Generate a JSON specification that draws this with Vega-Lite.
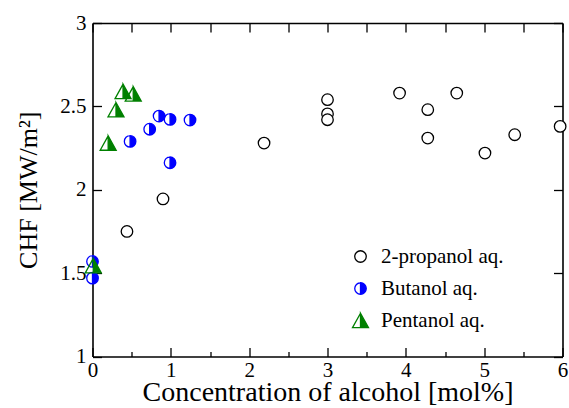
{
  "$schema": "https://vega.github.io/schema/vega-lite/v6.json",
  "width": 470,
  "height": 333.5,
  "autosize": {"type": "none"},
  "padding": {"left": 92.5, "top": 23, "right": 6.5, "bottom": 51.5},
  "background": "white",
  "config": {
    "view": {"stroke": null},
    "axis": {
      "domainColor": "black",
      "domainWidth": 1.6,
      "tickColor": "black",
      "tickWidth": 1.3,
      "labelColor": "black",
      "labelFont": "Liberation Serif",
      "labelFontSize": 21,
      "titleFont": "Liberation Serif",
      "titleColor": "black",
      "titleFontWeight": "normal",
      "grid": false
    },
    "legend": {
      "labelFont": "Liberation Serif",
      "labelColor": "black"
    }
  },
  "data": {
    "values": [
      {"s": "2-propanol aq.", "x": 0.44, "y": 1.75},
      {"s": "2-propanol aq.", "x": 0.90, "y": 1.945},
      {"s": "2-propanol aq.", "x": 2.19, "y": 2.28},
      {"s": "2-propanol aq.", "x": 3.00, "y": 2.54},
      {"s": "2-propanol aq.", "x": 3.00, "y": 2.455},
      {"s": "2-propanol aq.", "x": 3.00, "y": 2.42},
      {"s": "2-propanol aq.", "x": 3.92, "y": 2.58},
      {"s": "2-propanol aq.", "x": 4.28, "y": 2.48},
      {"s": "2-propanol aq.", "x": 4.28, "y": 2.31},
      {"s": "2-propanol aq.", "x": 4.65, "y": 2.58},
      {"s": "2-propanol aq.", "x": 5.01, "y": 2.22},
      {"s": "2-propanol aq.", "x": 5.39, "y": 2.33},
      {"s": "2-propanol aq.", "x": 5.97, "y": 2.38},
      {"s": "Butanol aq.", "x": 0.0, "y": 1.57},
      {"s": "Butanol aq.", "x": 0.0, "y": 1.47},
      {"s": "Butanol aq.", "x": 0.48, "y": 2.29},
      {"s": "Butanol aq.", "x": 0.73, "y": 2.363},
      {"s": "Butanol aq.", "x": 0.85, "y": 2.442},
      {"s": "Butanol aq.", "x": 0.99, "y": 2.422},
      {"s": "Butanol aq.", "x": 1.245, "y": 2.418},
      {"s": "Butanol aq.", "x": 0.99, "y": 2.162},
      {"s": "Pentanol aq.", "x": 0.01, "y": 1.545},
      {"s": "Pentanol aq.", "x": 0.20, "y": 2.28},
      {"s": "Pentanol aq.", "x": 0.30, "y": 2.48},
      {"s": "Pentanol aq.", "x": 0.39, "y": 2.59},
      {"s": "Pentanol aq.", "x": 0.52, "y": 2.575}
    ]
  },
  "layer": [
    {
      "mark": {"type": "point", "filled": true, "fill": "white", "strokeWidth": 0, "size": 256, "opacity": 1},
      "encoding": {
        "x": {
          "field": "x", "type": "quantitative",
          "scale": {"domain": [0, 6], "nice": false, "zero": false},
          "axis": {"orient": "top", "values": [0, 0.5, 1, 1.5, 2, 2.5, 3, 3.5, 4, 4.5, 5, 5.5, 6], "tickSize": -9, "labels": false, "title": null}
        },
        "y": {
          "field": "y", "type": "quantitative",
          "scale": {"domain": [1, 3], "nice": false, "zero": false},
          "axis": {"orient": "right", "values": [1, 1.5, 2, 2.5, 3], "tickSize": -9, "labels": false, "title": null}
        },
        "shape": {
          "condition": {"test": "datum.s === 'Pentanol aq.'", "value": "M0,-0.9 L1,0.9 L-1,0.9 Z"},
          "value": "M0.72,0 A0.72,0.72 0 1,1 -0.72,0 A0.72,0.72 0 1,1 0.72,0 Z"
        }
      }
    },
    {
      "mark": {"type": "point", "filled": true, "size": 256, "strokeWidth": 1.3, "opacity": 1},
      "encoding": {
        "x": {
          "field": "x", "type": "quantitative",
          "axis": {
            "orient": "bottom",
            "values": [0, 1, 2, 3, 4, 5, 6],
            "format": "~g",
            "tickSize": -9,
            "labelPadding": 12,
            "labelFlush": false,
            "labelOverlap": false,
            "title": "Concentration of alcohol [mol%]",
            "titleFontSize": 28,
            "titlePadding": -2
          }
        },
        "y": {
          "field": "y", "type": "quantitative",
          "axis": {
            "orient": "left",
            "values": [1, 1.5, 2, 2.5, 3],
            "format": "~g",
            "tickSize": -9,
            "labelPadding": 15.5,
            "labelFlush": false,
            "title": "CHF [MW/m²]",
            "titleFontSize": 26,
            "titlePadding": 18
          }
        },
        "shape": {
          "field": "s", "type": "nominal",
          "scale": {
            "domain": ["2-propanol aq.", "Butanol aq.", "Pentanol aq."],
            "range": [
              "M0.72,0 A0.72,0.72 0 1,1 -0.72,0 A0.72,0.72 0 1,1 0.72,0 Z",
              "M0,-0.72 A0.72,0.72 0 0,1 0,0.72 Z M0,-0.72 A0.72,0.72 0 0,0 0,0.72 A0.72,0.72 0 0,1 0,-0.72 Z",
              "M0,-0.9 L1,0.9 L0,0.9 Z M0,-0.9 L-1,0.9 L0,0.9 L-1,0.9 Z"
            ]
          },
          "legend": {"title": null, "orient": "none", "legendX": 257.5, "legendY": 223, "labelFontSize": 21, "symbolSize": 256, "symbolStrokeWidth": 1.3, "rowPadding": 10, "labelOffset": 10, "padding": 0}
        },
        "fill": {
          "field": "s", "type": "nominal",
          "scale": {"domain": ["2-propanol aq.", "Butanol aq.", "Pentanol aq."], "range": ["white", "#0000ff", "#008000"]},
          "legend": {"title": null, "orient": "none", "legendX": 257.5, "legendY": 223, "labelFontSize": 21, "symbolSize": 256, "symbolStrokeWidth": 1.3, "rowPadding": 10, "labelOffset": 10, "padding": 0}
        },
        "stroke": {
          "field": "s", "type": "nominal",
          "scale": {"domain": ["2-propanol aq.", "Butanol aq.", "Pentanol aq."], "range": ["black", "#0000ff", "#008000"]},
          "legend": {"title": null, "orient": "none", "legendX": 257.5, "legendY": 223, "labelFontSize": 21, "symbolSize": 256, "symbolStrokeWidth": 1.3, "rowPadding": 10, "labelOffset": 10, "padding": 0}
        }
      }
    },
    {
      "mark": {"type": "point", "opacity": 0, "size": 1},
      "encoding": {
        "x": {
          "field": "x", "type": "quantitative",
          "axis": {"orient": "bottom", "values": [0.5, 1.5, 2.5, 3.5, 4.5, 5.5], "tickSize": -5, "labels": false, "domain": false, "title": null}
        },
        "y": {"field": "y", "type": "quantitative", "axis": null}
      }
    }
  ]
}
